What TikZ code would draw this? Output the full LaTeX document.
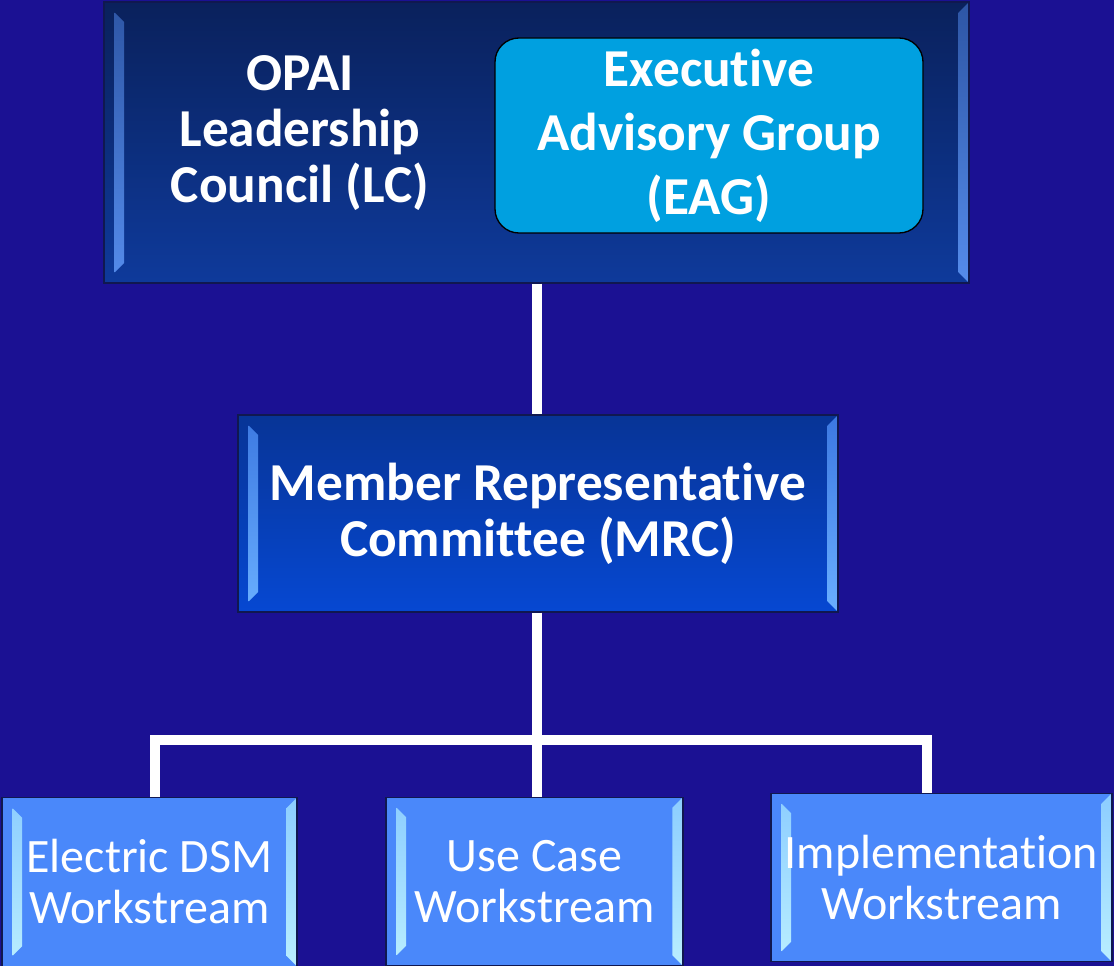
\documentclass[tikz,border=0pt]{standalone}
\usepackage{fontspec}
\setmainfont{Carlito}[Ligatures=NoCommon]
\usetikzlibrary{positioning}

\definecolor{bgindigo}{RGB}{27,17,147}
\definecolor{lctop}{RGB}{10,33,92}
\definecolor{lcbot}{RGB}{14,58,155}
\definecolor{eagfill}{RGB}{0,160,224}
\definecolor{mrctop}{RGB}{7,52,150}
\definecolor{mrcbot}{RGB}{6,72,210}
\definecolor{wsfill}{RGB}{74,136,250}
\definecolor{edgeline}{RGB}{16,24,80}
\definecolor{lcbevtop}{RGB}{45,85,165}
\definecolor{lcbevbot}{RGB}{85,140,235}
\definecolor{mrcbevtop}{RGB}{60,120,225}
\definecolor{mrcbevbot}{RGB}{105,175,255}
\definecolor{wsbevtop}{RGB}{140,205,255}
\definecolor{wsbevbot}{RGB}{185,238,255}

\begin{document}
\begin{tikzpicture}[
	x=0.75pt, y=-0.75pt,
	bevel/.style 2 args={path picture={
		\shade[top color=#1, bottom color=#2]
			([shift={(8pt,8pt)}]path picture bounding box.south west) --
			([shift={(15pt,15pt)}]path picture bounding box.south west) --
			([shift={(15pt,-15pt)}]path picture bounding box.north west) --
			([shift={(8pt,-8pt)}]path picture bounding box.north west) -- cycle;
		\shade[top color=#1, bottom color=#2]
			(path picture bounding box.south east) --
			([shift={(-8pt,8pt)}]path picture bounding box.south east) --
			([shift={(-8pt,-8pt)}]path picture bounding box.north east) --
			(path picture bounding box.north east) -- cycle;
	}},
	basic/.style  = {draw=edgeline, line width=0.8pt, inner sep=0pt, align=center, text=white},
	bigtext/.style = {font=\bfseries\fontsize{40}{42}\selectfont},
	lcbox/.style  = {basic, top color=lctop, bottom color=lcbot, bevel={lcbevtop}{lcbevbot},
		minimum width=648.75pt, minimum height=210.75pt},
	eagbox/.style = {draw=black, line width=1pt, fill=eagfill, rounded corners=18pt, align=center, text=white,
		inner sep=0pt, minimum width=321pt, minimum height=146.25pt, font=\bfseries\fontsize{40}{48}\selectfont},
	mrcbox/.style = {basic, bigtext, top color=mrctop, bottom color=mrcbot, bevel={mrcbevtop}{mrcbevbot},
		minimum width=450pt, minimum height=147.75pt},
	wsbox/.style  = {basic, fill=wsfill, bevel={wsbevtop}{wsbevbot}, minimum height=126.5pt,
		font=\fontsize{36}{38.25}\selectfont},
	wire/.style   = {draw=white, line width=7.5pt}]

	% background and page size
	\fill[bgindigo] (0,0) rectangle (1114,966);
	\useasboundingbox (0,0) rectangle (1114,966);

	% top level: leadership council with the advisory group inside
	\node[lcbox] (lc) at (536.5,142.5) {};
	\node[text=white, align=center, bigtext] (lctext) at (300,133) {OPAI\\Leadership\\Council (LC)};
	\node[eagbox] (eag) at (709,135.5) {Executive\\Advisory Group\\(EAG)};

	% middle level
	\node[mrcbox] (mrc) at (538,513.5) {Member Representative\\Committee (MRC)};

	% workstreams
	\node[wsbox, minimum width=221.25pt] (ws1) at (149.5,882) {Electric DSM\\Workstream};
	\node[wsbox, minimum width=222.75pt] (ws2) at (534.5,881.5) {Use Case\\Workstream};
	\node[wsbox, minimum width=255.75pt] (ws3) at (941.5,877.5) {Implementation\\Workstream};

	% connectors
	\coordinate (bus) at (537,740);
	\coordinate (busL) at (155,740);
	\coordinate (busR) at (927,740);
	\draw[wire] (lc.south -| bus) -- (mrc.north -| bus);
	\draw[wire] (mrc.south -| bus) -- (ws2.north -| bus);
	\draw[wire] (ws1.north -| busL) -- (busL) -- (busR) -- (ws3.north -| busR);

\end{tikzpicture}
\end{document}
